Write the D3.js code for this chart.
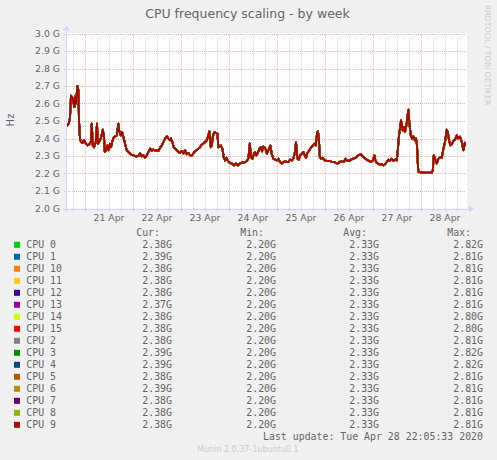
<!DOCTYPE html>
<html>
  <head>
    <meta charset="utf-8">
    <script src="https://d3js.org/d3.v7.min.js"></script>
    <title>CPU frequency scaling - by week</title>
    <style>
      body { margin: 0; background: #f0f0f0; }
      svg { display: block; }
    </style>
  </head>
  <body>

    <svg></svg>

    <script type="text/javascript">

      // legend rows, in munin's order
      var cpuNames  = ["CPU 0","CPU 1","CPU 10","CPU 11","CPU 12","CPU 13","CPU 14","CPU 15",
                       "CPU 2","CPU 3","CPU 4","CPU 5","CPU 6","CPU 7","CPU 8","CPU 9"];
      var cpuColors = ["#00cc00","#0066b3","#ff8000","#ffcc00","#330099","#990099","#ccff00","#ff0000",
                       "#808080","#008f00","#00487d","#b35a00","#b38f00","#6b006b","#8fb300","#b30000"];
      var curG = ["2.38G","2.39G","2.38G","2.38G","2.38G","2.37G","2.38G","2.38G",
                  "2.38G","2.39G","2.39G","2.38G","2.39G","2.38G","2.38G","2.38G"];
      var minG = ["2.20G","2.20G","2.20G","2.20G","2.20G","2.20G","2.20G","2.20G",
                  "2.20G","2.20G","2.20G","2.20G","2.20G","2.20G","2.20G","2.20G"];
      var avgG = ["2.33G","2.33G","2.33G","2.33G","2.33G","2.33G","2.33G","2.33G",
                  "2.33G","2.33G","2.33G","2.33G","2.33G","2.33G","2.33G","2.33G"];
      var maxG = ["2.82G","2.81G","2.81G","2.81G","2.81G","2.81G","2.80G","2.80G",
                  "2.81G","2.82G","2.82G","2.81G","2.81G","2.81G","2.81G","2.81G"];

      var yTickValues = [2.0, 2.1, 2.2, 2.3, 2.4, 2.5, 2.6, 2.7, 2.8, 2.9, 3.0];

      // [hours since 2020-04-20 00:00, GHz] -- the cpus track each other, one trace
      var cpuFreq = [
        [14.8,2.47],[15.5,2.48],[16,2.49],[16.5,2.52],[17,2.645],[17.8,2.63],[18.7,2.58],[19,2.64],[19.5,2.60],
        [20.2,2.70],[20.7,2.675],[21,2.50],[21.5,2.40],[22,2.38],[22.7,2.374],[23.5,2.39],[24.5,2.37],[25.2,2.36],
        [26.2,2.367],[26.9,2.38],[27.4,2.485],[27.9,2.36],[28.5,2.35],[29.4,2.38],[30,2.485],[30.4,2.37],[31,2.38],
        [31.9,2.40],[32.9,2.45],[33.5,2.41],[33.9,2.323],[34.4,2.333],[35.2,2.36],[35.7,2.333],[36.5,2.37],[37,2.35],
        [37.7,2.386],[38.5,2.41],[39.4,2.413],[39.9,2.418],[40.7,2.485],[41.2,2.437],[41.9,2.418],[42.5,2.437],
        [43.2,2.41],[44,2.37],[44.9,2.333],[45.7,2.323],[46.9,2.31],[48.2,2.304],[49.5,2.298],[50.7,2.30],
        [51.5,2.314],[52.4,2.298],[53.2,2.304],[54,2.29],[54.9,2.304],[55.7,2.323],[56.5,2.342],[57.4,2.329],
        [58.2,2.337],[59,2.329],[59.9,2.333],[60.7,2.329],[61.5,2.348],[62.4,2.36],[63.2,2.38],[64,2.40],
        [64.9,2.413],[65.7,2.40],[66.5,2.39],[67,2.40],[67.7,2.38],[68.4,2.35],[69,2.342],[69.9,2.333],
        [70.7,2.323],[71.5,2.317],[72.4,2.329],[73.2,2.314],[74,2.333],[74.9,2.31],[75.7,2.317],[76.5,2.304],
        [77.4,2.304],[78.2,2.314],[79,2.327],[79.9,2.333],[80.7,2.342],[81.5,2.35],[82.4,2.367],[83.2,2.371],
        [84,2.38],[84.9,2.39],[85.7,2.418],[86.2,2.441],[86.9,2.35],[87.4,2.36],[87.9,2.41],[88.5,2.433],
        [89.4,2.433],[90.2,2.428],[90.7,2.35],[91.2,2.355],[92,2.36],[92.7,2.342],[93.4,2.29],[94,2.275],
        [94.7,2.29],[95.4,2.272],[96.5,2.26],[97.4,2.257],[98.5,2.247],[99.4,2.257],[100.4,2.247],[101.5,2.257],
        [102.7,2.264],[104,2.264],[104.9,2.27],[105.7,2.285],[106.4,2.371],[107,2.295],[107.7,2.285],[108.4,2.31],
        [109,2.323],[109.7,2.304],[110.4,2.317],[111.2,2.342],[111.9,2.35],[112.5,2.327],[113.2,2.355],[114,2.348],
        [114.9,2.314],[115.7,2.333],[116.7,2.36],[117.4,2.31],[118.2,2.285],[119,2.279],[119.9,2.275],[120.7,2.285],
        [121.5,2.266],[122.4,2.257],[123.2,2.266],[124,2.27],[124.9,2.266],[125.7,2.266],[126.5,2.279],[127.4,2.275],
        [128.2,2.285],[129,2.323],[129.5,2.38],[130.2,2.285],[130.9,2.279],[131.5,2.304],[132.4,2.314],[133.2,2.323],
        [133.9,2.304],[134.5,2.29],[135.2,2.317],[136.2,2.333],[137,2.348],[137.9,2.36],[138.7,2.371],[139.4,2.36],
        [140,2.428],[140.4,2.441],[140.9,2.41],[141.4,2.295],[142,2.285],[142.9,2.29],[143.7,2.275],[144.9,2.272],
        [146.2,2.272],[147.4,2.266],[148.5,2.266],[149.5,2.26],[150.4,2.257],[151.2,2.266],[152.4,2.27],[153.5,2.266],
        [154.2,2.285],[154.9,2.275],[156,2.272],[157,2.279],[158.2,2.285],[159.5,2.29],[160.7,2.304],[161.9,2.31],
        [162.7,2.298],[163.7,2.29],[164.9,2.279],[166,2.272],[167,2.266],[167.9,2.275],[168.7,2.304],[169.2,2.275],
        [169.9,2.26],[171,2.253],[172.4,2.253],[173.2,2.247],[174,2.253],[174.9,2.266],[175.7,2.279],[176.5,2.272],
        [177.4,2.285],[178.2,2.272],[179,2.279],[179.9,2.275],[180.4,2.333],[181,2.418],[181.5,2.457],[182,2.504],
        [182.4,2.485],[182.9,2.447],[183.4,2.466],[184,2.437],[184.7,2.475],[185.2,2.523],[185.7,2.565],[186.2,2.485],
        [186.9,2.418],[187.5,2.40],[188.2,2.413],[188.9,2.39],[189.5,2.40],[190,2.361],[190.4,2.257],[190.7,2.209],
        [192.4,2.205],[194.5,2.205],[197.4,2.205],[197.9,2.218],[198.4,2.304],[199,2.285],[199.9,2.257],[200.7,2.285],
        [201.5,2.294],[202.4,2.29],[203.2,2.342],[204,2.38],[204.9,2.45],[205.4,2.437],[206,2.39],[206.7,2.361],
        [207.4,2.367],[208.2,2.386],[209,2.394],[209.9,2.418],[210.7,2.40],[211.5,2.41],[212.4,2.38],[213.2,2.333],
        [213.7,2.36],[214.0,2.38]
      ];

      var width = 497, height = 460;
      var base = Date.UTC(2020, 3, 20);
      var hour = 3600 * 1000;
      var toDate = h => new Date(base + h * hour);

      var plotLeft = 66, plotRight = 466, plotTop = 33.5, plotBottom = 208.5;

      var x = d3.scaleUtc()
                .domain([toDate(14.5), toDate(214.5)])
                .range([plotLeft, plotRight]);
      var y = d3.scaleLinear()
                .domain([2.0, 3.0])
                .range([plotBottom, plotTop]);

      var svg = d3.select("svg")
                  .attr("width", width)
                  .attr("height", height)
                  .style("font-family", "'DejaVu Sans', sans-serif")
                  .style("fill", "#666");

      svg.append("rect")
        .attr("width", width).attr("height", height).attr("fill", "#f0f0f0");

      // canvas
      svg.append("rect")
        .attr("x", plotLeft).attr("y", plotTop - 0.5)
        .attr("width", plotRight - plotLeft + 1).attr("height", plotBottom - plotTop + 0.5)
        .attr("fill", "#ffffff");

      // grid
      var grid = svg.append("g").attr("shape-rendering", "crispEdges");
      var sixHours = d3.utcHour.every(6).range(x.domain()[0], x.domain()[1]);
      var days = d3.utcDay.range(x.domain()[0], x.domain()[1]);

      grid.selectAll("line.minor")
        .data(sixHours.filter(d => d.getUTCHours() != 0))
        .join("line")
        .attr("class", "minor")
        .attr("x1", d => Math.round(x(d)) + 0.5).attr("x2", d => Math.round(x(d)) + 0.5)
        .attr("y1", plotTop).attr("y2", plotBottom + 2)
        .attr("stroke", "rgba(128,128,128,0.35)")
        .attr("stroke-dasharray", "1,1");

      grid.selectAll("line.hgrid")
        .data(yTickValues.slice(1))
        .join("line")
        .attr("class", "hgrid")
        .attr("x1", plotLeft - 2).attr("x2", plotRight)
        .attr("y1", d => Math.round(y(d)) + 0.5).attr("y2", d => Math.round(y(d)) + 0.5)
        .attr("stroke", "rgba(255,0,0,0.32)")
        .attr("stroke-dasharray", "1,1");

      grid.selectAll("line.major")
        .data(days)
        .join("line")
        .attr("class", "major")
        .attr("x1", d => Math.round(x(d)) + 0.5).attr("x2", d => Math.round(x(d)) + 0.5)
        .attr("y1", plotTop).attr("y2", plotBottom + 3)
        .attr("stroke", "rgba(255,0,0,0.32)")
        .attr("stroke-dasharray", "1,1");

      // series, CPU 9 ends up on top like rrdtool draws it
      var line = d3.line()
                   .x(d => x(toDate(d[0])))
                   .y(d => y(d[1]));

      svg.append("g")
        .selectAll("path")
        .data(cpuNames)
        .join("path")
        .attr("d", line(cpuFreq))
        .attr("fill", "none")
        .attr("stroke", (d, i) => cpuColors[i])
        .attr("stroke-width", 1.8)
        .attr("stroke-linejoin", "round");

      // axes + arrows
      var axisColor = "#cfd6f8";
      svg.append("line")
        .attr("x1", plotLeft - 3).attr("x2", plotRight + 3)
        .attr("y1", Math.round(plotBottom) + 0.5).attr("y2", Math.round(plotBottom) + 0.5)
        .attr("stroke", axisColor).attr("shape-rendering", "crispEdges");
      svg.append("line")
        .attr("x1", plotLeft + 0.5).attr("x2", plotLeft + 0.5)
        .attr("y1", plotBottom + 3).attr("y2", plotTop - 3)
        .attr("stroke", axisColor).attr("shape-rendering", "crispEdges");
      svg.append("path")
        .attr("d", d3.line()([[plotRight + 3, plotBottom - 3], [plotRight + 8, plotBottom + 0.5], [plotRight + 3, plotBottom + 4]]))
        .attr("fill", axisColor);
      svg.append("path")
        .attr("d", d3.line()([[plotLeft - 3, plotTop - 3], [plotLeft + 0.5, plotTop - 8], [plotLeft + 4, plotTop - 3]]))
        .attr("fill", axisColor);

      // y labels
      svg.selectAll("text.ylab")
        .data(yTickValues)
        .join("text")
        .attr("class", "ylab")
        .attr("x", plotLeft - 6)
        .attr("y", d => y(d) + 3.4)
        .attr("text-anchor", "end")
        .style("font-size", "9.3px")
        .text(d => d3.format(".1f")(d) + " G");

      // x labels, centred on noon
      svg.selectAll("text.xlab")
        .data(days.filter(d => x(d) + 24 < plotRight))
        .join("text")
        .attr("class", "xlab")
        .attr("x", d => x(d3.utcHour.offset(d, 12)))
        .attr("y", 221)
        .attr("text-anchor", "middle")
        .style("font-size", "9.3px")
        .text(d => d3.utcFormat("%d %b")(d));

      // title and side texts
      svg.append("text")
        .attr("x", 247.5).attr("y", 18)
        .attr("text-anchor", "middle")
        .style("font-size", "12.5px")
        .text("CPU frequency scaling - by week");

      svg.append("text")
        .attr("transform", "translate(14,120) rotate(-90)")
        .attr("text-anchor", "middle")
        .style("font-size", "10px")
        .text("Hz");

      svg.append("text")
        .attr("transform", "translate(485,5) rotate(90)")
        .style("font-size", "7.8px")
        .style("fill", "#cccccc")
        .text("RRDTOOL / TOBI OETIKER");

      // legend
      var mono = "'DejaVu Sans Mono', monospace";
      var legend = svg.append("g").style("font-family", mono).style("font-size", "9.9px");
      var cols = [{head: "Cur:", vals: curG, end: 172},
                  {head: "Min:", vals: minG, end: 276},
                  {head: "Avg:", vals: avgG, end: 379},
                  {head: "Max:", vals: maxG, end: 483}];
      var rowY = i => 248.3 + 12 * i;

      legend.selectAll("text.head")
        .data(cols)
        .join("text")
        .attr("class", "head")
        .attr("x", c => c.end - 12)
        .attr("y", 236)
        .attr("text-anchor", "end")
        .text(c => c.head);

      var rows = legend.selectAll("g.row")
        .data(cpuNames)
        .join("g")
        .attr("class", "row");

      rows.append("rect")
        .attr("x", 14).attr("y", (d, i) => rowY(i) - 6.5)
        .attr("width", 6).attr("height", 6)
        .attr("fill", (d, i) => cpuColors[i]);

      rows.append("text")
        .attr("x", 26.3).attr("y", (d, i) => rowY(i))
        .text(d => d);

      cols.forEach(function (c) {
        rows.append("text")
          .attr("x", c.end).attr("y", (d, i) => rowY(i))
          .attr("text-anchor", "end")
          .text((d, i) => c.vals[i]);
      });

      legend.append("text")
        .attr("x", 483).attr("y", 440.3)
        .attr("text-anchor", "end")
        .text("Last update: Tue Apr 28 22:05:33 2020");

      svg.append("text")
        .attr("x", 247.8).attr("y", 452)
        .attr("text-anchor", "middle")
        .style("font-size", "8px")
        .style("fill", "#cccccc")
        .text("Munin 2.0.37-1ubuntu0.1");

    </script>
  </body>
</html>
